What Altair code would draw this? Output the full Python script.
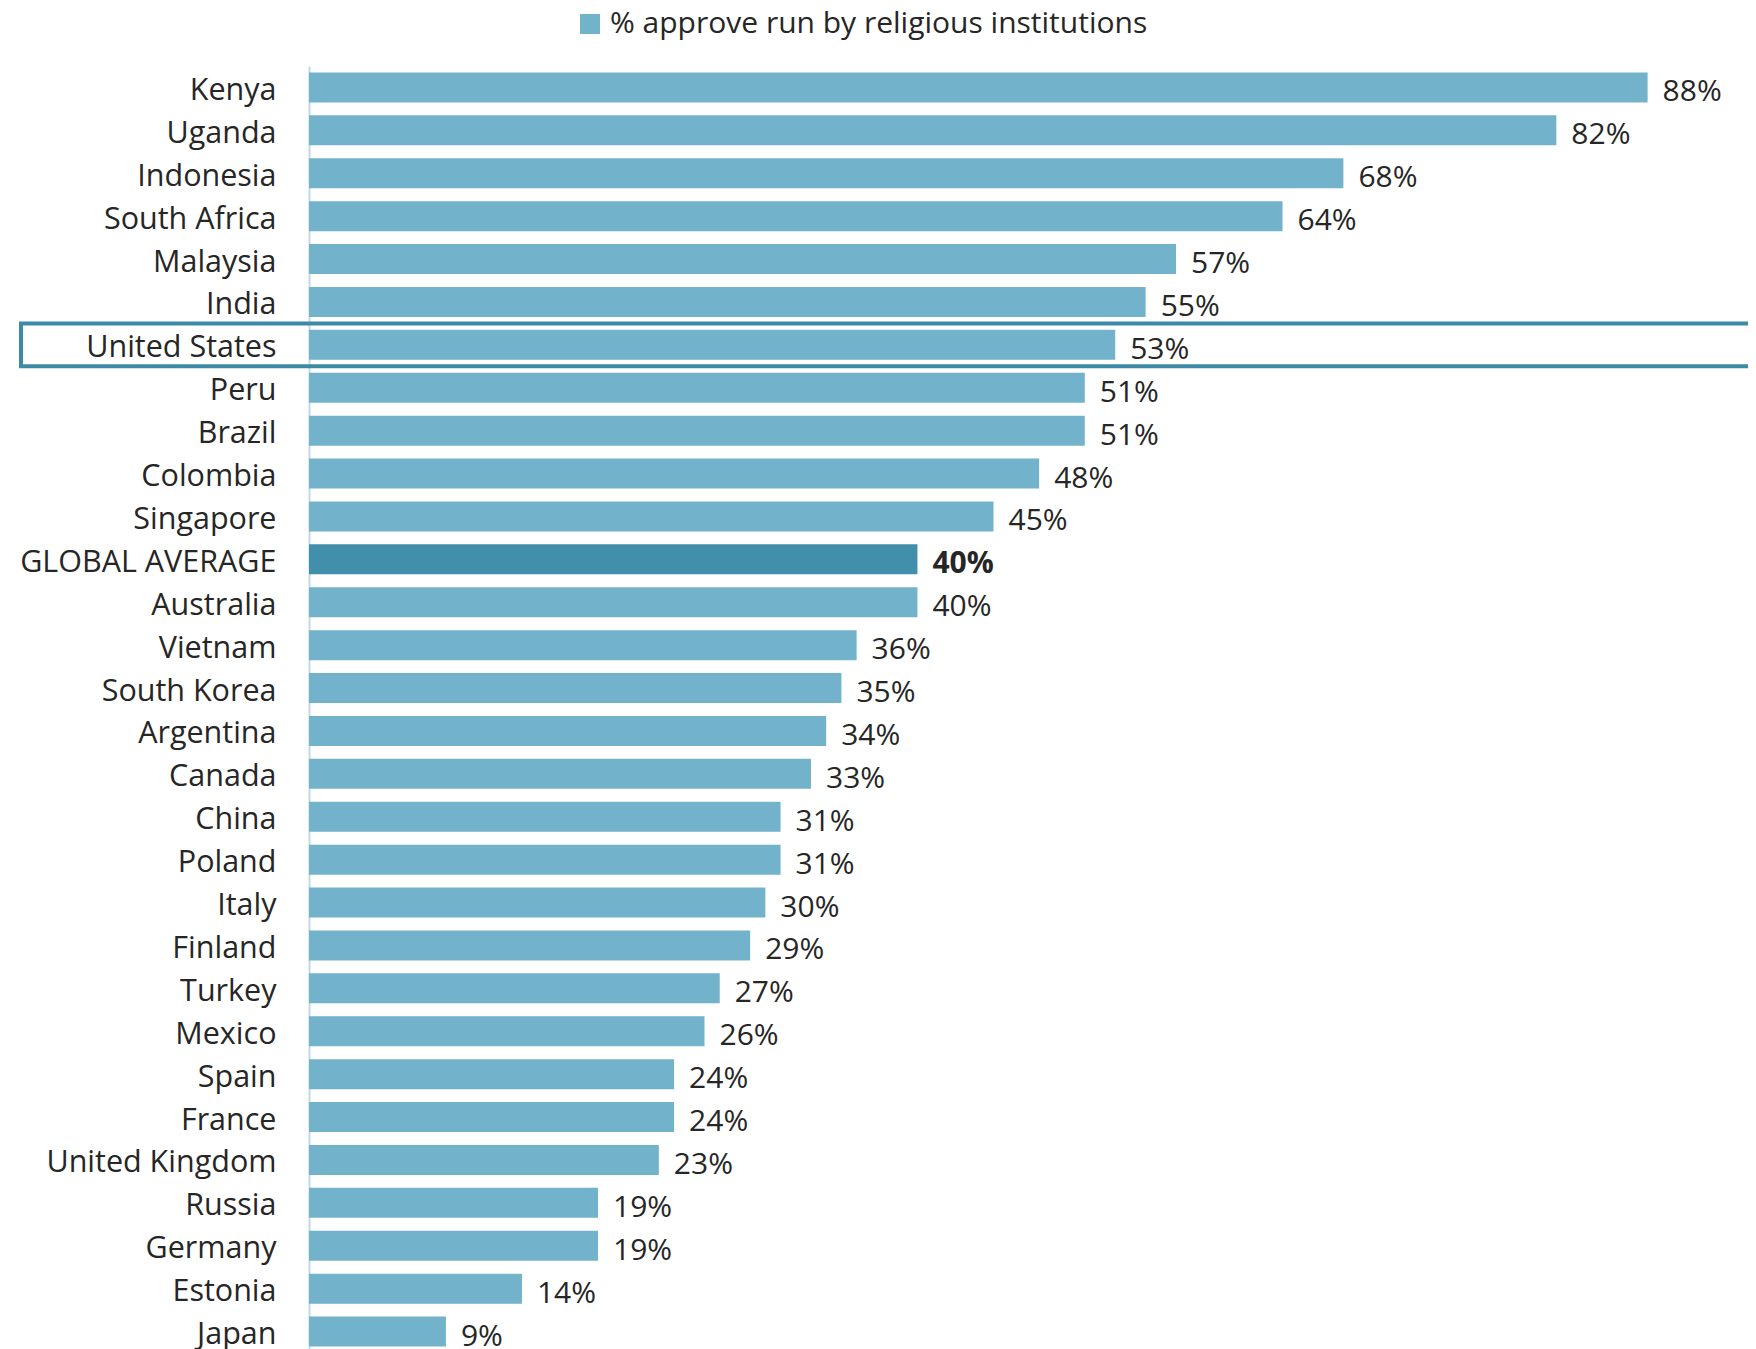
import altair as alt
import pandas as pd

countries = ["Kenya", "Uganda", "Indonesia", "South Africa", "Malaysia", "India",
             "United States", "Peru", "Brazil", "Colombia", "Singapore",
             "GLOBAL AVERAGE", "Australia", "Vietnam", "South Korea", "Argentina",
             "Canada", "China", "Poland", "Italy", "Finland", "Turkey", "Mexico",
             "Spain", "France", "United Kingdom", "Russia", "Germany", "Estonia", "Japan"]
values = [88, 82, 68, 64, 57, 55, 53, 51, 51, 48, 45, 40, 40, 36, 35, 34,
          33, 31, 31, 30, 29, 27, 26, 24, 24, 23, 19, 19, 14, 9]
series_name = "% approve run by religious institutions"
avg_name = "Global average"
highlight = ["United States"]

df = pd.DataFrame({
    "country": countries,
    "value": values,
    "series": [avg_name if c == "GLOBAL AVERAGE" else series_name for c in countries],
    "label": [f"{v}%" for v in values],
    "bold": [c == "GLOBAL AVERAGE" for c in countries],
})
hl = pd.DataFrame({"country": highlight})

FONT = "Open Sans"
TXT = "#262626"

y_enc = alt.Y("country:N", sort=countries,
              scale=alt.Scale(paddingInner=0, paddingOuter=0),
              axis=alt.Axis(title=None, ticks=False, labelFontSize=30.5, labelFont=FONT,
                            labelColor=TXT, labelPadding=33, labelOffset=3.5,
                            domainColor="#c4d9e3", domainWidth=2, labelLimit=400))
x_scale = alt.Scale(domain=[0, 94.6], nice=False, zero=True)

bars = alt.Chart(df).mark_bar(size=30).encode(
    y=y_enc,
    x=alt.X("value:Q", scale=x_scale, axis=None),
    color=alt.Color("series:N",
                    scale=alt.Scale(domain=[series_name, avg_name], range=["#72b2cb", "#418fab"]),
                    legend=alt.Legend(title=None, values=[series_name], orient="none",
                                      legendX=266, legendY=-57, symbolType="square",
                                      symbolSize=400, symbolStrokeWidth=0,
                                      labelFontSize=30, labelFont=FONT, labelColor=TXT,
                                      labelOffset=5, padding=0, labelLimit=800)),
)

text_norm = alt.Chart(df).transform_filter("!datum.bold").mark_text(
    align="left", baseline="middle", dx=15, dy=5, fontSize=30, font=FONT, color=TXT
).encode(y=alt.Y("country:N", sort=countries), x=alt.X("value:Q", scale=x_scale), text="label:N")

text_bold = alt.Chart(df).transform_filter("datum.bold").mark_text(
    align="left", baseline="middle", dx=15, dy=5, fontSize=30, font=FONT, color=TXT,
    fontWeight="bold"
).encode(y=alt.Y("country:N", sort=countries), x=alt.X("value:Q", scale=x_scale), text="label:N")

box = alt.Chart(hl).mark_rect(fillOpacity=0, stroke="#3d8aa6", strokeWidth=4, clip=False).encode(
    y=alt.Y("country:N", sort=countries),
    x=alt.value(-288), x2=alt.value(1500),
)

chart = alt.layer(bars, text_norm, text_bold, box).properties(
    width=1439, height=1287,
    autosize=alt.AutoSizeParams(type="none"),
    padding={"left": 301, "top": 58, "right": 0, "bottom": 0},
).configure_view(stroke=None)

chart.save("out.html", embed_options={"renderer": "svg", "actions": False})
